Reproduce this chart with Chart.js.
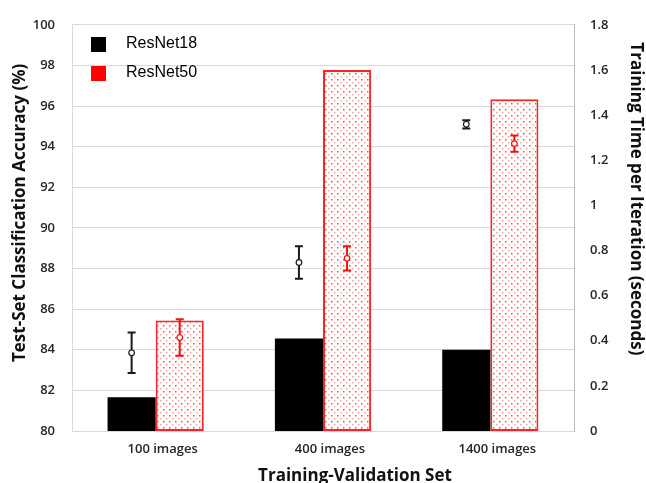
<!DOCTYPE html>
<html><head><meta charset="utf-8">
<script src="https://cdn.jsdelivr.net/npm/chart.js@4/dist/chart.umd.min.js"></script>
<style>html,body{margin:0;padding:0;background:#fff}</style>
</head><body>
<canvas id="c" width="646" height="483"></canvas>
<script>
const categories = ['100 images', '400 images', '1400 images'];
const seriesNames = ['ResNet18', 'ResNet50'];
// Training time per iteration (seconds) -> bars, right axis
const timeResNet18 = [0.15, 0.41, 0.36];
const timeResNet50 = [0.49, 1.60, 1.47];
// Test-set accuracy (%) mean and error -> error bars, left axis
const accResNet18 = [83.85, 88.3, 95.1];
const accErrResNet18 = [1.0, 0.8, 0.2];
const accResNet50 = [84.6, 88.5, 94.15];
const accErrResNet50 = [0.9, 0.6, 0.4];

const colR18 = '#000000';
const colR50 = '#ff2424';

function dotPattern() {
  const p = document.createElement('canvas');
  p.width = 6; p.height = 6;
  const g = p.getContext('2d');
  g.fillStyle = '#ffffff'; g.fillRect(0, 0, 6, 6);
  g.fillStyle = 'rgba(255,50,50,0.85)';
  g.fillRect(1, 1, 1.5, 1.5);
  g.fillStyle = 'rgba(255,90,90,0.55)';
  g.fillRect(4, 4, 1.5, 1.5);
  return document.createElement('canvas').getContext('2d').createPattern(p, 'repeat');
}

function legendSwatch(color) {
  const c = document.createElement('canvas');
  c.width = 27; c.height = 15;
  const g = c.getContext('2d');
  g.fillStyle = color; g.fillRect(0, 0, 15, 15);
  return c;
}

const errorBarPlugin = {
  id: 'errorBars',
  afterDatasetsDraw(chart) {
    const yL = chart.scales.yL;
    const ctx = chart.ctx;
    const sets = [[0, accResNet18, accErrResNet18, '#1a1a1a'], [1, accResNet50, accErrResNet50, '#ee1111']];
    ctx.save();
    sets.forEach(([di, m, e, col]) => {
      const meta = chart.getDatasetMeta(di);
      meta.data.forEach((bar, i) => {
        const x = bar.x;
        const yT = yL.getPixelForValue(m[i] + e[i]);
        const yB = yL.getPixelForValue(m[i] - e[i]);
        const yM = yL.getPixelForValue(m[i]);
        ctx.strokeStyle = col; ctx.lineWidth = 2;
        ctx.beginPath();
        ctx.moveTo(x, yT); ctx.lineTo(x, yB);
        ctx.moveTo(x - 4, yT); ctx.lineTo(x + 4, yT);
        ctx.moveTo(x - 4, yB); ctx.lineTo(x + 4, yB);
        ctx.stroke();
        ctx.fillStyle = '#ffffff'; ctx.lineWidth = 1.2;
        ctx.beginPath(); ctx.arc(x, yM, 2.8, 0, Math.PI * 2); ctx.fill(); ctx.stroke();
      });
    });
    ctx.restore();
  }
};

// Moves only the axis titles (and the in-plot legend) to where the reference has them
function shiftTitle(scale, dx, dy) {
  const orig = scale.drawTitle;
  scale.drawTitle = function () {
    const l = this.left, r = this.right, t = this.top, b = this.bottom;
    this.left += dx; this.right += dx; this.top += dy; this.bottom += dy;
    orig.call(this);
    this.left = l; this.right = r; this.top = t; this.bottom = b;
  };
}
const placementPlugin = {
  id: 'placement',
  afterUpdate(chart) {
    const s = chart.scales;
    if (!s.yL._shifted) { shiftTitle(s.yL, 0, -15); s.yL._shifted = true; }
    if (!s.yR._shifted) { shiftTitle(s.yR, 0, -29); s.yR._shifted = true; }
    if (!s.x._shifted) { shiftTitle(s.x, 32, 0); s.x._shifted = true; }
    if (chart.legend) { chart.legend.top += 23; chart.legend.left += 6; }
  }
};

const tickFont = {family: 'Open Sans', size: 13, weight: '600'};
const titleFont = {family: 'Open Sans', size: 17, weight: 'bold'};

new Chart(document.getElementById('c'), {
  type: 'bar',
  data: {
    labels: categories,
    datasets: [
      {label: seriesNames[0], data: timeResNet18, yAxisID: 'yR', backgroundColor: colR18, borderColor: colR18, borderWidth: 0,
       barPercentage: 1, categoryPercentage: 0.575},
      {label: seriesNames[1], data: timeResNet50, yAxisID: 'yR', backgroundColor: dotPattern(), borderColor: colR50, borderWidth: 2,
       borderSkipped: false, barPercentage: 1, categoryPercentage: 0.575}
    ]
  },
  options: {
    responsive: false,
    animation: false,
    layout: {padding: {top: 20, left: 0, right: 0, bottom: 0}},
    plugins: {
      tooltip: {enabled: false},
      legend: {
        position: 'chartArea',
        align: 'start',
        labels: {
          usePointStyle: true, pointStyleWidth: 27, boxHeight: 15, padding: 13,
          font: {family: 'Liberation Sans', size: 16}, color: '#111',
          generateLabels: () => [
            {text: seriesNames[0], pointStyle: legendSwatch(colR18), fillStyle: colR18, strokeStyle: colR18, lineWidth: 0, datasetIndex: 0},
            {text: seriesNames[1], pointStyle: legendSwatch('#ff0000'), fillStyle: '#ff0000', strokeStyle: '#ff0000', lineWidth: 0, datasetIndex: 1}
          ]
        }
      }
    },
    scales: {
      x: {
        grid: {display: false, drawTicks: false},
        border: {display: true, color: '#d9d9d9', width: 1},
        ticks: {font: tickFont, color: '#262626', padding: 10, labelOffset: 7},
        title: {display: true, text: 'Training-Validation Set', font: {family: 'Open Sans', size: 17, weight: 'bold'}, color: '#111', padding: {top: 0, bottom: -3}},
        afterFit: s => { s.height = 52; }
      },
      yL: {
        position: 'left', min: 80, max: 100,
        ticks: {stepSize: 2, font: tickFont, color: '#262626', padding: 17},
        grid: {color: '#d9d9d9', drawTicks: false},
        border: {display: true, color: '#d9d9d9'},
        title: {display: true, text: 'Test-Set Classification Accuracy (%)', font: titleFont, color: '#111', padding: {top: 10, bottom: 0}},
        afterFit: s => { s.width = 72; }
      },
      yR: {
        position: 'right', min: 0, max: 1.8,
        ticks: {stepSize: 0.2, font: tickFont, color: '#262626', padding: 16,
          callback: v => String(Number(v.toFixed(1)))},
        grid: {display: false, drawTicks: false},
        border: {display: true, color: '#bfbfbf'},
        title: {display: true, text: 'Training Time per Iteration (seconds)', font: titleFont, color: '#111', padding: {top: 0, bottom: 0}},
        afterFit: s => { s.width = 72; }
      }
    }
  },
  plugins: [errorBarPlugin, placementPlugin]
});
</script>
</body></html>
